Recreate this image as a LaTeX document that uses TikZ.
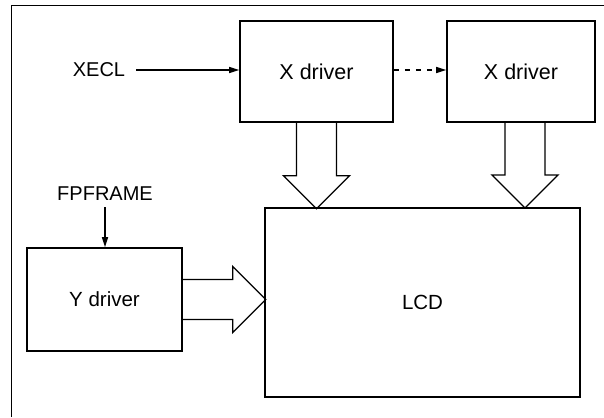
\documentclass[tikz,border=0pt]{standalone}
\usepackage{fontspec}
\setmainfont{Liberation Sans}
\usetikzlibrary{arrows.meta}
\begin{document}
\begin{tikzpicture}[x=1pt,y=-1pt,>={Triangle[length=10pt,width=6pt]},
	block/.style={draw, line width=1.6pt, inner sep=0pt, font=\fontsize{20.5}{24}\selectfont},
	xblock/.style={block, minimum height=101pt, font=\fontsize{21.5}{24}\selectfont},
	sig node/.style={inner sep=0pt, font=\fontsize{20}{24}\selectfont},
	pics/bigarrow/.style={code={\draw[line width=1.3pt, line join=miter] (-20,0) -- (-20,{#1-33}) -- (-33,{#1-33}) -- (0,#1) -- (33,{#1-33}) -- (20,{#1-33}) -- (20,0);}}]
			\useasboundingbox (0,0) rectangle (604,417);
			% frame
			\draw[line width=0.8pt] (11,417) -- (11,5) -- (604,5);
			
			% Nodes
			\node[xblock, minimum width=153pt] (xd1) at (316.5,71.5) {X driver};
			\node[xblock, minimum width=148pt] (xd2) at (521,71.5) {X driver};
			\node[block, minimum width=155pt, minimum height=103pt] (yd) at (104.5,299.5) {Y driver};
			\node[block, minimum width=315pt, minimum height=189pt] (lcd) at (422.5,302.5) {LCD};
			\node[sig node] (xecl) at (99,70) {XECL};
			\node[sig node] (fpf) at (105,194) {FPFRAME};
			
			\path[line width=1.3pt]
			(xecl.east) edge[->, shorten <=11pt] (xecl.east -| xd1.west)
			(xecl.east -| xd1.east) edge[->, dash pattern=on 5pt off 6pt] (xecl.east -| xd2.west)
			(fpf.south) edge[->, shorten <=6pt] (fpf.south |- yd.north);
			
			% wide arrows
			\pic at (xd1.south) {bigarrow=86};
			\pic at (525,122) {bigarrow=86};
			\pic[rotate=90] at (yd.east) {bigarrow=83};
		\end{tikzpicture}
\end{document}
